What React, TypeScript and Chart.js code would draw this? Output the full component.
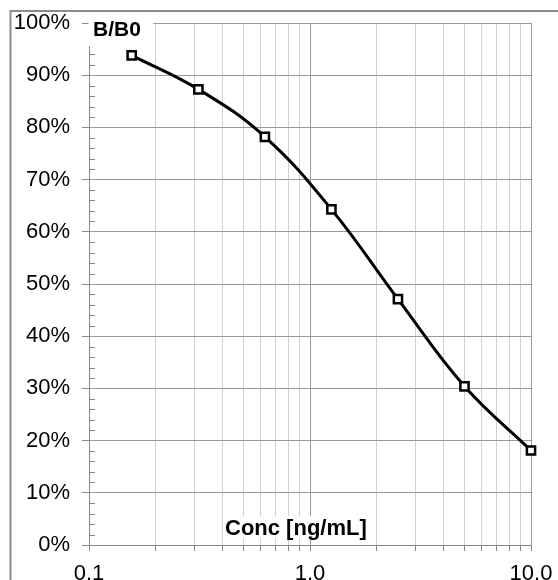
import React, { useEffect, useRef } from "react";
import { Chart, registerables } from "chart.js";

Chart.register(...registerables);

// ---- data ----
const concentrations = [0.156, 0.3125, 0.625, 1.25, 2.5, 5, 10];
const bOverB0 = [93.8, 87.3, 78.2, 64.3, 47.1, 30.4, 18.1];
const xTickValues = [0.1, 0.2, 0.3, 0.4, 0.5, 0.6, 0.7, 0.8, 0.9, 1, 2, 3, 4, 5, 6, 7, 8, 9, 10];
const xMajorTicks = [0.1, 1, 10];
const yMinorTicks = [2, 4, 6, 8, 12, 14, 16, 18, 22, 24, 26, 28, 32, 34, 36, 38, 42, 44, 46, 48, 52, 54, 56, 58, 62, 64, 66, 68, 72, 74, 76, 78, 82, 84, 86, 88, 92, 94, 96, 98];
const yTitle = "B/B0";
const xTitle = "Conc [ng/mL]";

const FONT = "'Liberation Sans', Arial, sans-serif";
const MAJOR_GRID = "#9a9a9a";
const MINOR_GRID = "#d0d0d0";
const AXIS = "#888888";

const isMajorX = (v: number) => xMajorTicks.some((m) => Math.abs(m - v) < 1e-9);

const decorPlugin = {
  id: "decor",
  beforeDraw(chart: any) {
    const ctx = chart.ctx;
    ctx.save();
    ctx.fillStyle = "#ffffff";
    ctx.fillRect(0, 0, chart.width, chart.height);
    ctx.strokeStyle = "#8c8c8c";
    ctx.lineWidth = 2;
    ctx.strokeRect(10.5, 11, 800, 800);
    ctx.restore();
  },
  afterDraw(chart: any) {
    const ctx = chart.ctx;
    const { left, top, bottom } = chart.chartArea;
    const y = chart.scales.y;
    ctx.save();
    // minor inside ticks on the y axis
    ctx.strokeStyle = AXIS;
    ctx.lineWidth = 1;
    for (const v of yMinorTicks) {
      const py = Math.round(y.getPixelForValue(v)) + 0.5;
      ctx.beginPath();
      ctx.moveTo(left, py);
      ctx.lineTo(left + 6, py);
      ctx.stroke();
    }
    // y title with white box
    ctx.fillStyle = "#ffffff";
    ctx.fillRect(left - 0.5, top - 11, 65, 34);
    ctx.fillStyle = "#000000";
    ctx.font = `bold 21px ${FONT}`;
    ctx.textAlign = "left";
    ctx.textBaseline = "alphabetic";
    ctx.fillText(yTitle, left + 4, top + 13);
    // x title with white box
    ctx.fillStyle = "#ffffff";
    ctx.fillRect(left + 134, bottom - 29, 146, 22);
    ctx.fillStyle = "#000000";
    ctx.font = `bold 22px ${FONT}`;
    ctx.fillText(xTitle, left + 136, bottom - 10);
    ctx.restore();
  },
};

export default function App() {
  const canvasRef = useRef<HTMLCanvasElement | null>(null);

  useEffect(() => {
    if (!canvasRef.current) return;
    const chart = new Chart(canvasRef.current, {
      type: "line",
      data: {
        datasets: [
          {
            data: concentrations.map((c, i) => ({ x: c, y: bOverB0[i] })),
            borderColor: "#000000",
            borderWidth: 3,
            tension: 0.4,
            pointStyle: "rect",
            pointRadius: 5.8,
            pointBorderWidth: 2.5,
            pointBackgroundColor: "#ffffff",
            pointBorderColor: "#000000",
            clip: false,
          } as any,
        ],
      },
      options: {
        animation: false,
        responsive: false,
        devicePixelRatio: 1,
        layout: { padding: { left: 0, top: 23, right: 27, bottom: 0 } },
        plugins: {
          legend: { display: false },
          tooltip: { enabled: false },
        },
        scales: {
          x: {
            type: "logarithmic",
            min: 0.1,
            max: 10,
            afterBuildTicks: (s: any) => {
              s.ticks = xTickValues.map((v) => ({ value: v, major: isMajorX(v) }));
            },
            afterFit: (s: any) => {
              s.height = 35;
              s.paddingLeft = 0;
              s.paddingRight = 0;
            },
            ticks: {
              autoSkip: false,
              maxRotation: 0,
              minRotation: 0,
              padding: 10,
              color: "#000000",
              font: { size: 22, family: FONT },
              callback: (v: any) => (isMajorX(Number(v)) ? Number(v).toFixed(1) : ""),
            },
            grid: {
              color: (c: any) => (c.tick && isMajorX(c.tick.value) ? MAJOR_GRID : MINOR_GRID),
              tickLength: 6,
              tickColor: AXIS,
            },
            border: { color: AXIS },
          },
          y: {
            min: 0,
            max: 100,
            afterFit: (s: any) => {
              s.width = 89;
              s.paddingTop = 0;
              s.paddingBottom = 0;
            },
            ticks: {
              stepSize: 10,
              padding: 12,
              color: "#000000",
              font: { size: 22, family: FONT },
              callback: (v: any) => `${v}%`,
            },
            grid: {
              color: MAJOR_GRID,
              tickLength: 7,
              tickColor: AXIS,
            },
            border: { color: AXIS },
          },
        },
      } as any,
      plugins: [decorPlugin],
    });
    return () => chart.destroy();
  }, []);

  return (
    <div style={{ position: "fixed", left: 0, top: 0, width: 558, height: 580, background: "#fff" }}>
      <canvas ref={canvasRef} width={558} height={580} style={{ display: "block" }} />
    </div>
  );
}
